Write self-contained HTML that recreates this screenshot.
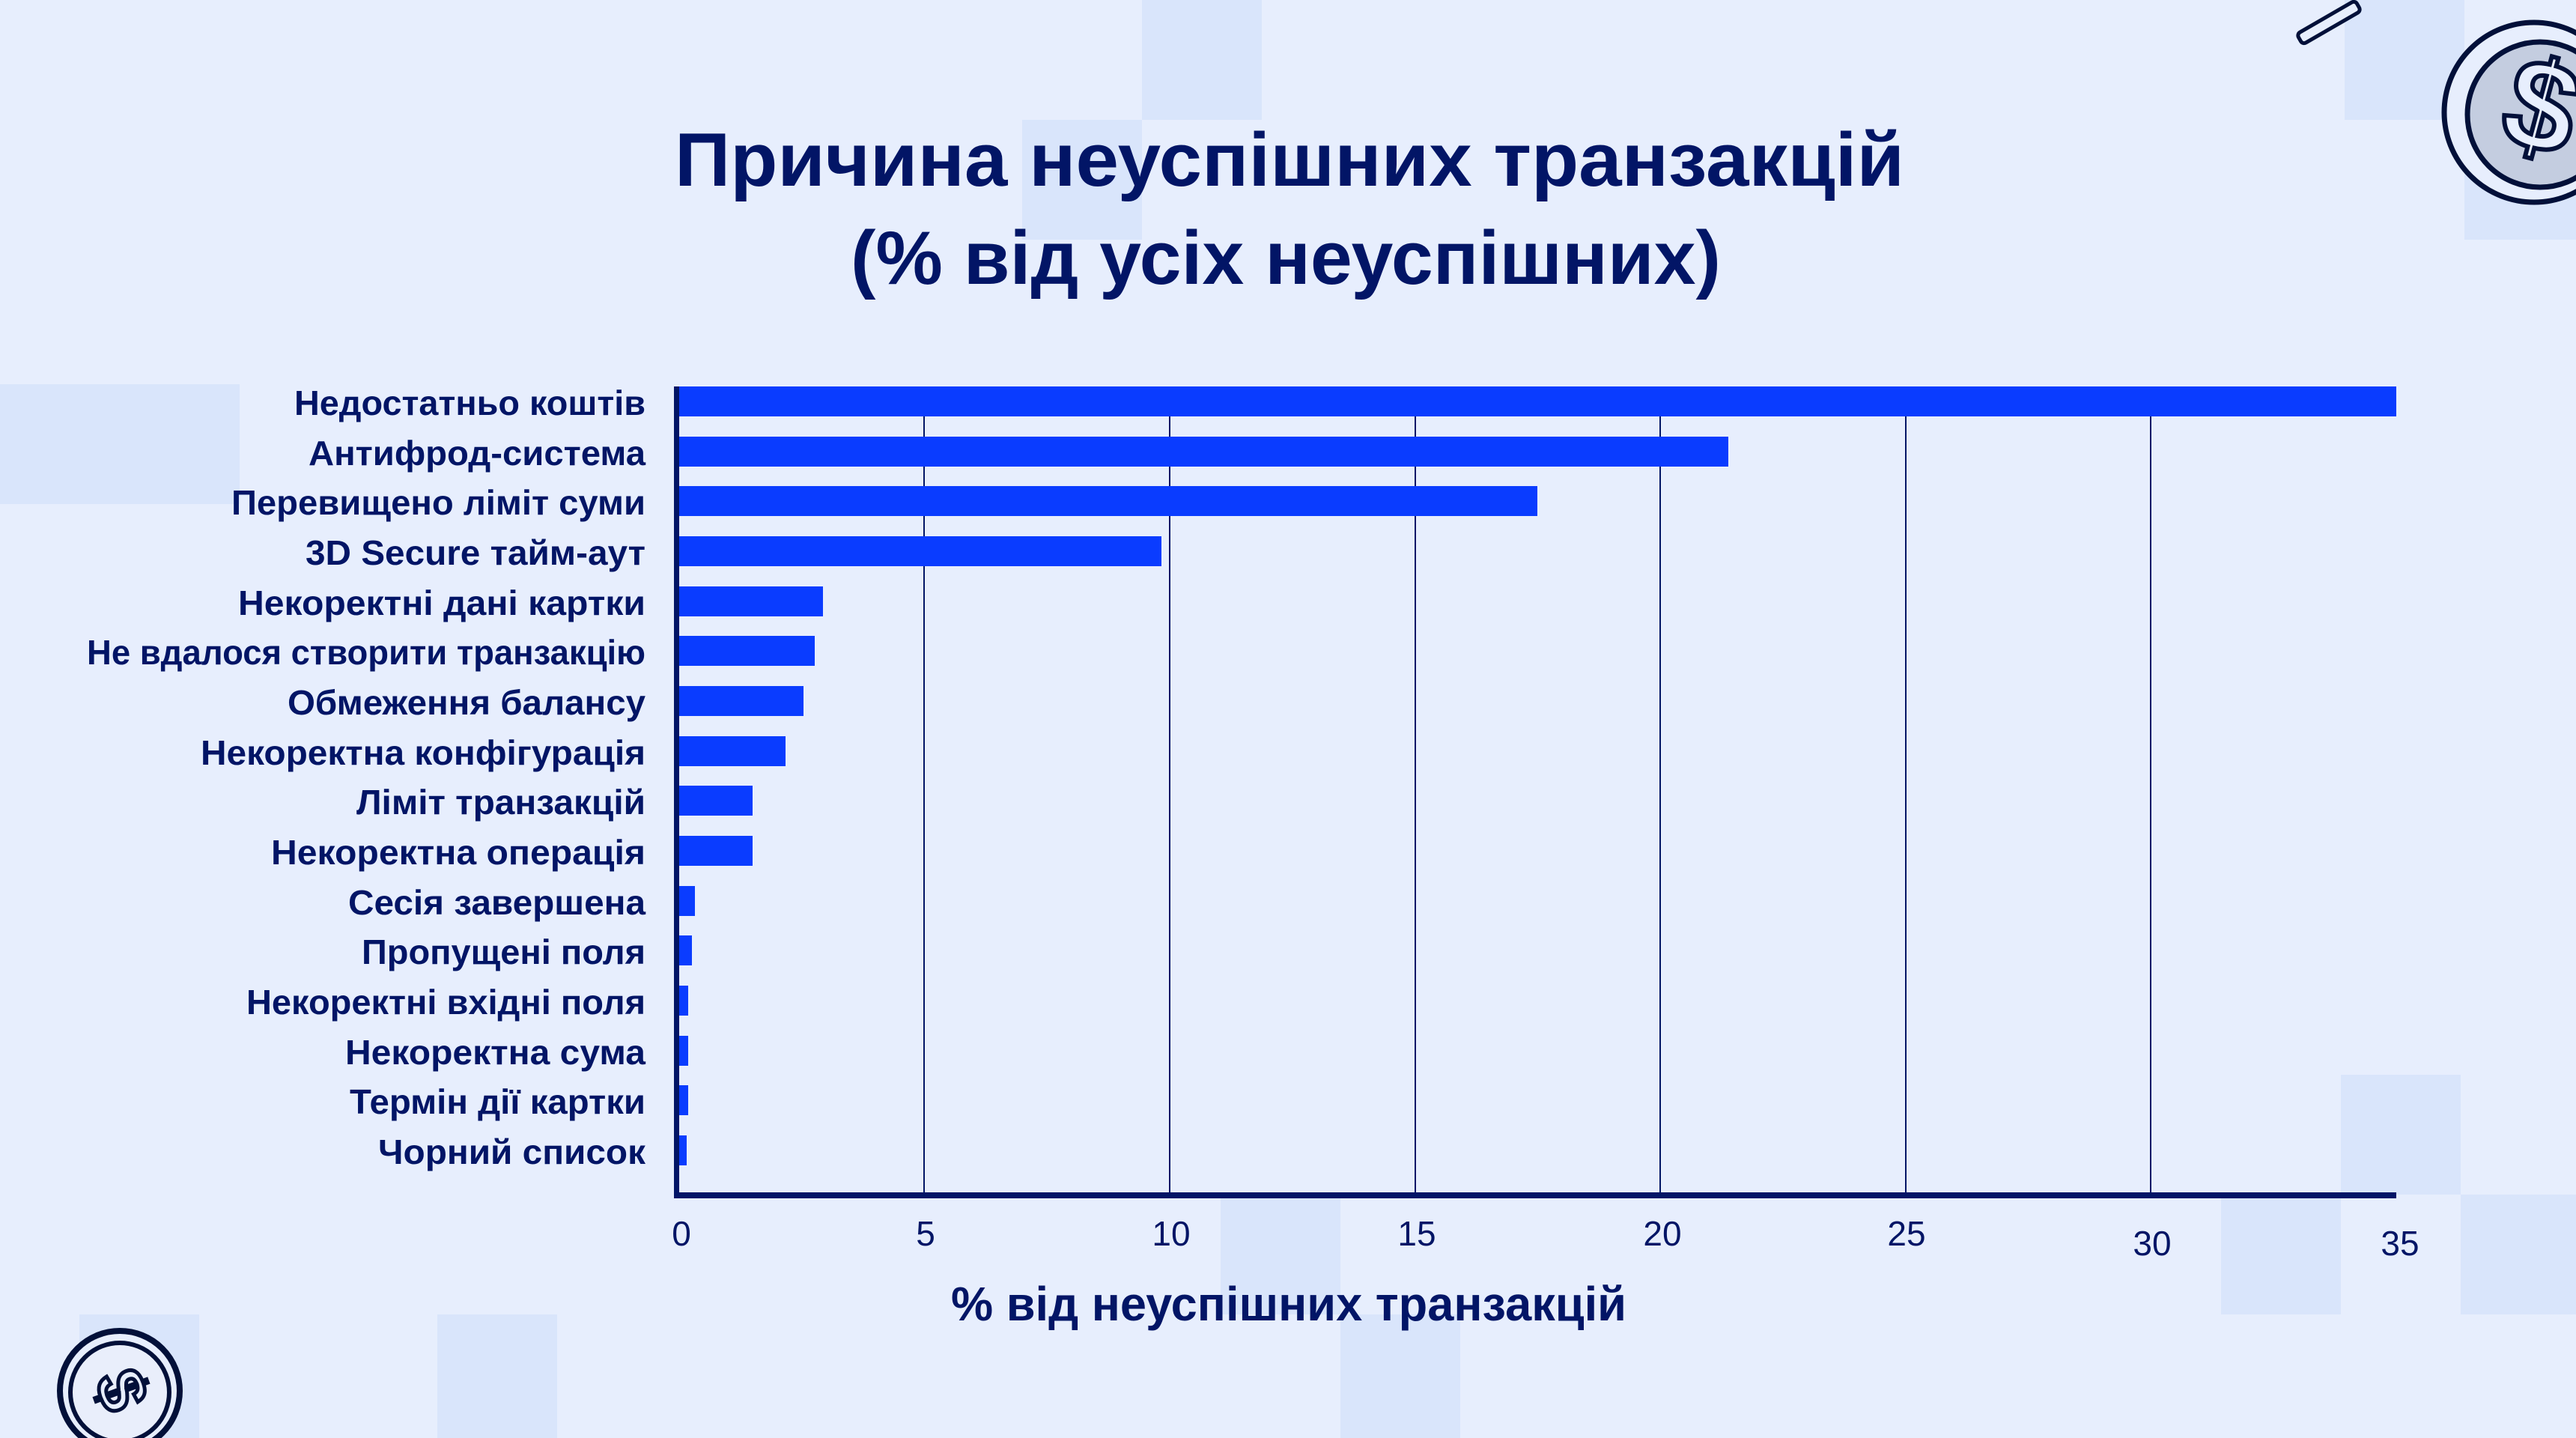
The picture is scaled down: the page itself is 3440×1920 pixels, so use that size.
<!DOCTYPE html>
<html><head><meta charset="utf-8"><style>
html,body{margin:0;padding:0;background:#e7eefd;}
svg{display:block;}
text{font-family:"Liberation Sans",sans-serif;fill:#021566;}
</style></head><body>
<svg width="3440" height="1920" viewBox="0 0 3440 1920" xmlns="http://www.w3.org/2000/svg">
<rect width="3440" height="1920" fill="#e7eefd"/>
<g fill="#d9e5fb">
<rect x="1525" y="0" width="160" height="160"/>
<rect x="1365" y="160" width="160" height="160"/>
<rect x="3131" y="0" width="160" height="160"/>
<rect x="3291" y="160" width="149" height="160"/>
<rect x="0" y="513" width="320" height="160"/>
<rect x="3126" y="1435" width="160" height="160"/>
<rect x="2966" y="1595" width="160" height="160"/>
<rect x="3286" y="1595" width="154" height="160"/>
<rect x="1630" y="1595" width="160" height="160"/>
<rect x="1790" y="1755" width="160" height="165"/>
<rect x="106" y="1755" width="160" height="165"/>
<rect x="584" y="1755" width="160" height="165"/>
</g>
<!-- title -->
<text x="1722" y="248" font-size="101" font-weight="bold" text-anchor="middle" textLength="1642" lengthAdjust="spacingAndGlyphs">Причина неуспішних транзакцій</text>
<text x="1717" y="379" font-size="101" font-weight="bold" text-anchor="middle" textLength="1162" lengthAdjust="spacingAndGlyphs">(% від усіх неуспішних)</text>
<!-- grid -->
<g stroke="#021566" stroke-width="2">
<line x1="1234" y1="516" x2="1234" y2="1594"/>
<line x1="1562" y1="516" x2="1562" y2="1594"/>
<line x1="1890" y1="516" x2="1890" y2="1594"/>
<line x1="2217" y1="516" x2="2217" y2="1594"/>
<line x1="2545" y1="516" x2="2545" y2="1594"/>
<line x1="2872" y1="516" x2="2872" y2="1594"/>
</g>
<!-- bars -->
<g fill="#0a3cff">
<rect x="904" y="516" width="2296" height="40"/>
<rect x="904" y="583" width="1404" height="40"/>
<rect x="904" y="649" width="1149" height="40"/>
<rect x="904" y="716" width="647" height="40"/>
<rect x="904" y="783" width="195" height="40"/>
<rect x="904" y="849" width="184" height="40"/>
<rect x="904" y="916" width="169" height="40"/>
<rect x="904" y="983" width="145" height="40"/>
<rect x="904" y="1049" width="101" height="40"/>
<rect x="904" y="1116" width="101" height="40"/>
<rect x="904" y="1183" width="24" height="40"/>
<rect x="904" y="1249" width="20" height="40"/>
<rect x="904" y="1316" width="15" height="40"/>
<rect x="904" y="1383" width="15" height="40"/>
<rect x="904" y="1449" width="15" height="40"/>
<rect x="904" y="1516" width="13" height="40"/>
</g>
<!-- axes -->
<rect x="900" y="516" width="7" height="1084" fill="#021566"/>
<rect x="900" y="1592" width="2300" height="8" fill="#021566"/>
<!-- labels -->
<g font-size="46" font-weight="bold" text-anchor="end">
<text x="862" y="554" textLength="469" lengthAdjust="spacingAndGlyphs">Недостатньо коштів</text>
<text x="862" y="621" textLength="450" lengthAdjust="spacingAndGlyphs">Антифрод-система</text>
<text x="862" y="687" textLength="553" lengthAdjust="spacingAndGlyphs">Перевищено ліміт суми</text>
<text x="862" y="754" textLength="454" lengthAdjust="spacingAndGlyphs">3D Secure тайм-аут</text>
<text x="862" y="821" textLength="544" lengthAdjust="spacingAndGlyphs">Некоректні дані картки</text>
<text x="862" y="887" textLength="746" lengthAdjust="spacingAndGlyphs">Не вдалося створити транзакцію</text>
<text x="862" y="954" textLength="478" lengthAdjust="spacingAndGlyphs">Обмеження балансу</text>
<text x="862" y="1021" textLength="594" lengthAdjust="spacingAndGlyphs">Некоректна конфігурація</text>
<text x="862" y="1087" textLength="386" lengthAdjust="spacingAndGlyphs">Ліміт транзакцій</text>
<text x="862" y="1154" textLength="500" lengthAdjust="spacingAndGlyphs">Некоректна операція</text>
<text x="862" y="1221" textLength="397" lengthAdjust="spacingAndGlyphs">Сесія завершена</text>
<text x="862" y="1287" textLength="379" lengthAdjust="spacingAndGlyphs">Пропущені поля</text>
<text x="862" y="1354" textLength="533" lengthAdjust="spacingAndGlyphs">Некоректні вхідні поля</text>
<text x="862" y="1421" textLength="401" lengthAdjust="spacingAndGlyphs">Некоректна сума</text>
<text x="862" y="1487" textLength="395" lengthAdjust="spacingAndGlyphs">Термін дії картки</text>
<text x="862" y="1554" textLength="357" lengthAdjust="spacingAndGlyphs">Чорний список</text>
</g>
<!-- ticks -->
<g font-size="46" text-anchor="middle">
<text x="910" y="1663">0</text>
<text x="1236" y="1663">5</text>
<text x="1564" y="1663">10</text>
<text x="1892" y="1663">15</text>
<text x="2220" y="1663">20</text>
<text x="2546" y="1663">25</text>
<text x="2874" y="1676">30</text>
<text x="3205" y="1676">35</text>
</g>
<text x="1721" y="1763" font-size="64" font-weight="bold" text-anchor="middle" textLength="902" lengthAdjust="spacingAndGlyphs">% від неуспішних транзакцій</text>
<!-- top-right coin -->
<g stroke="#021039" stroke-width="7">
<circle cx="3384" cy="150" r="120" fill="#e7eefd"/>
<circle cx="3392" cy="153" r="97" fill="#c4cde0"/>
</g>
<text x="3392" y="200" font-size="170" font-weight="bold" text-anchor="middle" style="fill:#e7eefd;stroke:#021039;stroke-width:6" transform="rotate(15 3392 150)">$</text>
<g transform="rotate(-30 3110 30)">
<rect x="3065" y="22" width="90" height="16" rx="5" fill="#e7eefd" stroke="#021039" stroke-width="5"/>
</g>
<!-- bottom-left coin -->
<g stroke="#021039">
<circle cx="160" cy="1857" r="80" fill="#e7eefd" stroke-width="8"/>
<circle cx="160" cy="1859" r="66" fill="#e9eefb" stroke-width="6"/>
</g>
<text x="160" y="1885" font-size="90" font-weight="bold" text-anchor="middle" style="fill:#e7eefd;stroke:#021039;stroke-width:5" transform="rotate(70 160 1857)">$</text>
</svg>
</body></html>
